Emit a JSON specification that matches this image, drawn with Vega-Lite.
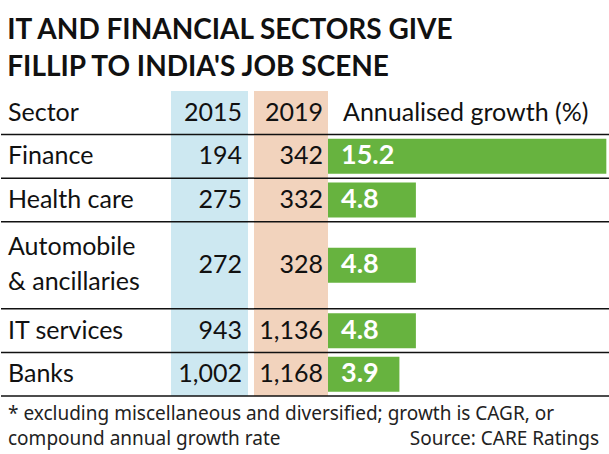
{
"$schema":"https://vega.github.io/schema/vega-lite/v6.json",
"background":"white",
"padding":{"left":0,"right":0,"top":17,"bottom":0},
"title":{"text":["IT AND FINANCIAL SECTORS GIVE","FILLIP TO INDIA'S JOB SCENE"],"anchor":"start","frame":"bounds","dx":7,"offset":9,"font":"Lato","fontWeight":"bold","fontSize":28,"lineHeight":37,"color":"#111111"},
"datasets":{
 "rows":[
  {"sector":"Finance","y2015":194,"y2019":342,"growth":15.2},
  {"sector":"Health care","y2015":275,"y2019":332,"growth":4.8},
  {"sector":"Automobile\n& ancillaries","y2015":272,"y2019":328,"growth":4.8},
  {"sector":"IT services","y2015":943,"y2019":1136,"growth":4.8},
  {"sector":"Banks","y2015":1002,"y2019":1168,"growth":3.9}
 ],
 "header":[
  {"sector":"Sector","column":"sector","label":"Sector"},
  {"sector":"Sector","column":"2015","label":"2015"},
  {"sector":"Sector","column":"2019","label":"2019"},
  {"sector":"Sector","column":"growth","label":"Annualised growth (%)"}
 ],
 "notes":[
  {"line":1,"side":"left","text":"* excluding miscellaneous and diversified; growth is CAGR, or"},
  {"line":2,"side":"left","text":"compound annual growth rate"},
  {"line":2,"side":"right","text":"Source: CARE Ratings"}
 ]
},
"spacing":4,
"vconcat":[
 {"spacing":0,"bounds":"flush","hconcat":[
  {"width":170,"height":305,"layer":[
   {"data":{"name":"rows"},"mark":{"type":"rule","color":"#111111","strokeWidth":1.5},"encoding":{"y":{"field":"sector","type":"nominal","bandPosition":0,"scale":{"domain":["Sector","Finance","Health care","Automobile\n& ancillaries"," ","IT services","Banks"],"paddingInner":0,"paddingOuter":0},"axis":null}}},
   {"data":{"name":"rows"},"transform":[{"filter":{"field":"sector","equal":"Banks"}}],"mark":{"type":"rule","color":"#111111","strokeWidth":1.5},"encoding":{"y":{"field":"sector","type":"nominal","bandPosition":1,"scale":{"domain":["Sector","Finance","Health care","Automobile\n& ancillaries"," ","IT services","Banks"],"paddingInner":0,"paddingOuter":0},"axis":null}}},
   {"data":{"name":"header"},"transform":[{"filter":{"field":"column","equal":"sector"}}],"mark":{"type":"text","align":"left","baseline":"middle","dx":7},"encoding":{"x":{"value":0},"y":{"field":"sector","type":"nominal","scale":{"domain":["Sector","Finance","Health care","Automobile\n& ancillaries"," ","IT services","Banks"],"paddingInner":0,"paddingOuter":0},"axis":null},"text":{"field":"label"}}},
   {"data":{"name":"rows"},"transform":[{"filter":{"not":{"field":"sector","equal":"Automobile\n& ancillaries"}}}],"mark":{"type":"text","align":"left","baseline":"middle","dx":7},"encoding":{"x":{"value":0},"y":{"field":"sector","type":"nominal","scale":{"domain":["Sector","Finance","Health care","Automobile\n& ancillaries"," ","IT services","Banks"],"paddingInner":0,"paddingOuter":0},"axis":null},"text":{"field":"sector"}}},
   {"data":{"name":"rows"},"transform":[{"filter":{"field":"sector","equal":"Automobile\n& ancillaries"}}],"mark":{"type":"text","align":"left","baseline":"middle","dx":7,"dy":-18,"lineBreak":"\n","lineHeight":35},"encoding":{"x":{"value":0},"y":{"field":"sector","type":"nominal","bandPosition":1,"scale":{"domain":["Sector","Finance","Health care","Automobile\n& ancillaries"," ","IT services","Banks"],"paddingInner":0,"paddingOuter":0},"axis":null},"text":{"field":"sector"}}}
  ]},
  {"width":77,"height":305,"view":{"fill":"#cde8f1","stroke":null},"layer":[
   {"data":{"name":"rows"},"mark":{"type":"rule","color":"#111111","strokeWidth":1.5},"encoding":{"y":{"field":"sector","type":"nominal","bandPosition":0,"scale":{"domain":["Sector","Finance","Health care","Automobile\n& ancillaries"," ","IT services","Banks"],"paddingInner":0,"paddingOuter":0},"axis":null}}},
   {"data":{"name":"rows"},"transform":[{"filter":{"field":"sector","equal":"Banks"}}],"mark":{"type":"rule","color":"#111111","strokeWidth":1.5},"encoding":{"y":{"field":"sector","type":"nominal","bandPosition":1,"scale":{"domain":["Sector","Finance","Health care","Automobile\n& ancillaries"," ","IT services","Banks"],"paddingInner":0,"paddingOuter":0},"axis":null}}},
   {"data":{"name":"header"},"transform":[{"filter":{"field":"column","equal":"2015"}}],"mark":{"type":"text","align":"right","baseline":"middle","dx":-6},"encoding":{"x":{"value":"width"},"y":{"field":"sector","type":"nominal","scale":{"domain":["Sector","Finance","Health care","Automobile\n& ancillaries"," ","IT services","Banks"],"paddingInner":0,"paddingOuter":0},"axis":null},"text":{"field":"label"}}},
   {"data":{"name":"rows"},"transform":[{"filter":{"not":{"field":"sector","equal":"Automobile\n& ancillaries"}}}],"mark":{"type":"text","align":"right","baseline":"middle","dx":-6},"encoding":{"x":{"value":"width"},"y":{"field":"sector","type":"nominal","scale":{"domain":["Sector","Finance","Health care","Automobile\n& ancillaries"," ","IT services","Banks"],"paddingInner":0,"paddingOuter":0},"axis":null},"text":{"field":"y2015","type":"quantitative","format":","}}},
   {"data":{"name":"rows"},"transform":[{"filter":{"field":"sector","equal":"Automobile\n& ancillaries"}}],"mark":{"type":"text","align":"right","baseline":"middle","dx":-6},"encoding":{"x":{"value":"width"},"y":{"field":"sector","type":"nominal","bandPosition":1,"scale":{"domain":["Sector","Finance","Health care","Automobile\n& ancillaries"," ","IT services","Banks"],"paddingInner":0,"paddingOuter":0},"axis":null},"text":{"field":"y2015","type":"quantitative","format":","}}}
  ]},
  {"width":6,"height":305,"layer":[
   {"data":{"name":"rows"},"mark":{"type":"rule","color":"#111111","strokeWidth":1.5},"encoding":{"y":{"field":"sector","type":"nominal","bandPosition":0,"scale":{"domain":["Sector","Finance","Health care","Automobile\n& ancillaries"," ","IT services","Banks"],"paddingInner":0,"paddingOuter":0},"axis":null}}},
   {"data":{"name":"rows"},"transform":[{"filter":{"field":"sector","equal":"Banks"}}],"mark":{"type":"rule","color":"#111111","strokeWidth":1.5},"encoding":{"y":{"field":"sector","type":"nominal","bandPosition":1,"scale":{"domain":["Sector","Finance","Health care","Automobile\n& ancillaries"," ","IT services","Banks"],"paddingInner":0,"paddingOuter":0},"axis":null}}}
  ]},
  {"width":74,"height":305,"view":{"fill":"#f2d3bd","stroke":null},"layer":[
   {"data":{"name":"rows"},"mark":{"type":"rule","color":"#111111","strokeWidth":1.5},"encoding":{"y":{"field":"sector","type":"nominal","bandPosition":0,"scale":{"domain":["Sector","Finance","Health care","Automobile\n& ancillaries"," ","IT services","Banks"],"paddingInner":0,"paddingOuter":0},"axis":null}}},
   {"data":{"name":"rows"},"transform":[{"filter":{"field":"sector","equal":"Banks"}}],"mark":{"type":"rule","color":"#111111","strokeWidth":1.5},"encoding":{"y":{"field":"sector","type":"nominal","bandPosition":1,"scale":{"domain":["Sector","Finance","Health care","Automobile\n& ancillaries"," ","IT services","Banks"],"paddingInner":0,"paddingOuter":0},"axis":null}}},
   {"data":{"name":"header"},"transform":[{"filter":{"field":"column","equal":"2019"}}],"mark":{"type":"text","align":"right","baseline":"middle","dx":-5},"encoding":{"x":{"value":"width"},"y":{"field":"sector","type":"nominal","scale":{"domain":["Sector","Finance","Health care","Automobile\n& ancillaries"," ","IT services","Banks"],"paddingInner":0,"paddingOuter":0},"axis":null},"text":{"field":"label"}}},
   {"data":{"name":"rows"},"transform":[{"filter":{"not":{"field":"sector","equal":"Automobile\n& ancillaries"}}}],"mark":{"type":"text","align":"right","baseline":"middle","dx":-5},"encoding":{"x":{"value":"width"},"y":{"field":"sector","type":"nominal","scale":{"domain":["Sector","Finance","Health care","Automobile\n& ancillaries"," ","IT services","Banks"],"paddingInner":0,"paddingOuter":0},"axis":null},"text":{"field":"y2019","type":"quantitative","format":","}}},
   {"data":{"name":"rows"},"transform":[{"filter":{"field":"sector","equal":"Automobile\n& ancillaries"}}],"mark":{"type":"text","align":"right","baseline":"middle","dx":-5},"encoding":{"x":{"value":"width"},"y":{"field":"sector","type":"nominal","bandPosition":1,"scale":{"domain":["Sector","Finance","Health care","Automobile\n& ancillaries"," ","IT services","Banks"],"paddingInner":0,"paddingOuter":0},"axis":null},"text":{"field":"y2019","type":"quantitative","format":","}}}
  ]},
  {"width":282,"height":305,"layer":[
   {"data":{"name":"rows"},"mark":{"type":"rule","color":"#111111","strokeWidth":1.5},"encoding":{"y":{"field":"sector","type":"nominal","bandPosition":0,"scale":{"domain":["Sector","Finance","Health care","Automobile\n& ancillaries"," ","IT services","Banks"],"paddingInner":0,"paddingOuter":0},"axis":null}}},
   {"data":{"name":"rows"},"transform":[{"filter":{"field":"sector","equal":"Banks"}}],"mark":{"type":"rule","color":"#111111","strokeWidth":1.5},"encoding":{"y":{"field":"sector","type":"nominal","bandPosition":1,"scale":{"domain":["Sector","Finance","Health care","Automobile\n& ancillaries"," ","IT services","Banks"],"paddingInner":0,"paddingOuter":0},"axis":null}}},
   {"data":{"name":"header"},"transform":[{"filter":{"field":"column","equal":"growth"}}],"mark":{"type":"text","align":"left","baseline":"middle","dx":15},"encoding":{"x":{"value":0},"y":{"field":"sector","type":"nominal","scale":{"domain":["Sector","Finance","Health care","Automobile\n& ancillaries"," ","IT services","Banks"],"paddingInner":0,"paddingOuter":0},"axis":null},"text":{"field":"label"}}},
   {"data":{"name":"rows"},"transform":[{"filter":{"not":{"field":"sector","equal":"Automobile\n& ancillaries"}}}],"mark":{"type":"rule","color":"#67b33f","strokeWidth":35,"strokeCap":"butt"},"encoding":{"x":{"field":"growth","type":"quantitative","scale":{"domain":[0,15.4],"nice":false,"zero":true},"axis":null},"x2":{"datum":0},"y":{"field":"sector","type":"nominal","scale":{"domain":["Sector","Finance","Health care","Automobile\n& ancillaries"," ","IT services","Banks"],"paddingInner":0,"paddingOuter":0},"axis":null}}},
   {"data":{"name":"rows"},"transform":[{"filter":{"field":"sector","equal":"Automobile\n& ancillaries"}}],"mark":{"type":"rule","color":"#67b33f","strokeWidth":35,"strokeCap":"butt"},"encoding":{"x":{"field":"growth","type":"quantitative","scale":{"domain":[0,15.4],"nice":false,"zero":true},"axis":null},"x2":{"datum":0},"y":{"field":"sector","type":"nominal","bandPosition":1,"scale":{"domain":["Sector","Finance","Health care","Automobile\n& ancillaries"," ","IT services","Banks"],"paddingInner":0,"paddingOuter":0},"axis":null}}},
   {"data":{"name":"rows"},"transform":[{"filter":{"not":{"field":"sector","equal":"Automobile\n& ancillaries"}}}],"mark":{"type":"text","align":"left","baseline":"middle","dx":13,"fontWeight":"bold","fontSize":27,"color":"#ffffff"},"encoding":{"x":{"datum":0,"type":"quantitative"},"y":{"field":"sector","type":"nominal","scale":{"domain":["Sector","Finance","Health care","Automobile\n& ancillaries"," ","IT services","Banks"],"paddingInner":0,"paddingOuter":0},"axis":null},"text":{"field":"growth","type":"quantitative","format":".1f"}}},
   {"data":{"name":"rows"},"transform":[{"filter":{"field":"sector","equal":"Automobile\n& ancillaries"}}],"mark":{"type":"text","align":"left","baseline":"middle","dx":13,"fontWeight":"bold","fontSize":27,"color":"#ffffff"},"encoding":{"x":{"datum":0,"type":"quantitative"},"y":{"field":"sector","type":"nominal","bandPosition":1,"scale":{"domain":["Sector","Finance","Health care","Automobile\n& ancillaries"," ","IT services","Banks"],"paddingInner":0,"paddingOuter":0},"axis":null},"text":{"field":"growth","type":"quantitative","format":".1f"}}}
  ]}
 ]},
 {"width":609,"height":50,"data":{"name":"notes"},"layer":[
  {"transform":[{"filter":{"field":"side","equal":"left"}}],"mark":{"type":"text","align":"left","baseline":"middle","dx":7,"font":"Noto Sans","fontSize":19,"color":"#222222"},"encoding":{"x":{"value":0},"y":{"field":"line","type":"ordinal","scale":{"paddingInner":0,"paddingOuter":0},"axis":null},"text":{"field":"text"}}},
  {"transform":[{"filter":{"field":"side","equal":"right"}}],"mark":{"type":"text","align":"right","baseline":"middle","dx":-11,"font":"Noto Sans","fontSize":19,"color":"#222222"},"encoding":{"x":{"value":"width"},"y":{"field":"line","type":"ordinal","scale":{"paddingInner":0,"paddingOuter":0},"axis":null},"text":{"field":"text"}}}
 ]}
],
"config":{"view":{"stroke":null},"concat":{"spacing":0},"text":{"font":"Lato","fontSize":25,"color":"#111111"}}
}
